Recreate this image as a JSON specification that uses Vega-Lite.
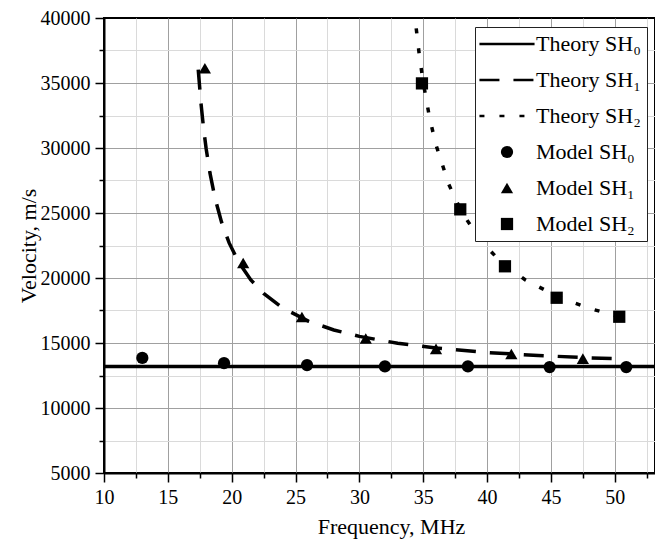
{
  "$schema": "https://vega.github.io/schema/vega-lite/v6.json",
  "width": 551,
  "height": 455,
  "autosize": "none",
  "padding": {"left": 104, "top": 18, "right": 0, "bottom": 74},
  "background": "white",
  "datasets": {
    "theory": [
      {"series": "Theory SH₀", "f": 10, "v": 13200},
      {"series": "Theory SH₀", "f": 55, "v": 13200},
      {"series": "Theory SH₁", "f": 17.38, "v": 36030},
      {"series": "Theory SH₁", "f": 17.6, "v": 33390},
      {"series": "Theory SH₁", "f": 17.8, "v": 31490},
      {"series": "Theory SH₁", "f": 18.0, "v": 29940},
      {"series": "Theory SH₁", "f": 18.3, "v": 28060},
      {"series": "Theory SH₁", "f": 18.7, "v": 26130},
      {"series": "Theory SH₁", "f": 19.2, "v": 24310},
      {"series": "Theory SH₁", "f": 19.8, "v": 22700},
      {"series": "Theory SH₁", "f": 20.5, "v": 21300},
      {"series": "Theory SH₁", "f": 21.5, "v": 19850},
      {"series": "Theory SH₁", "f": 22.5, "v": 18810},
      {"series": "Theory SH₁", "f": 24, "v": 17690},
      {"series": "Theory SH₁", "f": 26, "v": 16690},
      {"series": "Theory SH₁", "f": 28, "v": 16000},
      {"series": "Theory SH₁", "f": 30, "v": 15510},
      {"series": "Theory SH₁", "f": 33, "v": 14980},
      {"series": "Theory SH₁", "f": 36, "v": 14610},
      {"series": "Theory SH₁", "f": 40, "v": 14270},
      {"series": "Theory SH₁", "f": 44, "v": 14040},
      {"series": "Theory SH₁", "f": 48, "v": 13860},
      {"series": "Theory SH₁", "f": 50.3, "v": 13790},
      {"series": "Theory SH₂", "f": 34.45, "v": 39200},
      {"series": "Theory SH₂", "f": 34.7, "v": 37100},
      {"series": "Theory SH₂", "f": 35, "v": 35030},
      {"series": "Theory SH₂", "f": 35.5, "v": 32310},
      {"series": "Theory SH₂", "f": 36, "v": 30230},
      {"series": "Theory SH₂", "f": 37, "v": 27200},
      {"series": "Theory SH₂", "f": 38, "v": 25090},
      {"series": "Theory SH₂", "f": 39.5, "v": 22870},
      {"series": "Theory SH₂", "f": 41, "v": 21320},
      {"series": "Theory SH₂", "f": 43, "v": 19850},
      {"series": "Theory SH₂", "f": 45.5, "v": 18580},
      {"series": "Theory SH₂", "f": 48, "v": 17670},
      {"series": "Theory SH₂", "f": 50.2, "v": 17060}
    ],
    "model": [
      {"series": "Model SH₀", "f": 13.0, "v": 13850},
      {"series": "Model SH₀", "f": 19.4, "v": 13450},
      {"series": "Model SH₀", "f": 25.9, "v": 13300},
      {"series": "Model SH₀", "f": 32.0, "v": 13200},
      {"series": "Model SH₀", "f": 38.5, "v": 13200},
      {"series": "Model SH₀", "f": 44.9, "v": 13150},
      {"series": "Model SH₀", "f": 50.9, "v": 13150},
      {"series": "Model SH₁", "f": 17.9, "v": 36130},
      {"series": "Model SH₁", "f": 20.9, "v": 21150},
      {"series": "Model SH₁", "f": 25.5, "v": 17000},
      {"series": "Model SH₁", "f": 30.5, "v": 15350},
      {"series": "Model SH₁", "f": 36.0, "v": 14550},
      {"series": "Model SH₁", "f": 41.9, "v": 14150},
      {"series": "Model SH₁", "f": 47.5, "v": 13800},
      {"series": "Model SH₂", "f": 34.9, "v": 34970},
      {"series": "Model SH₂", "f": 37.9, "v": 25280},
      {"series": "Model SH₂", "f": 41.4, "v": 20900},
      {"series": "Model SH₂", "f": 45.45, "v": 18480},
      {"series": "Model SH₂", "f": 50.35, "v": 17020}
    ]
  },
  "config": {
    "font": "Liberation Serif",
    "view": {"stroke": "black", "strokeWidth": 2},
    "axis": {
      "domainColor": "black",
      "domainWidth": 2,
      "tickColor": "black",
      "tickWidth": 1.5,
      "gridWidth": 1,
      "labelFont": "Liberation Serif",
      "labelFontSize": 20,
      "labelColor": "black",
      "labelPadding": 5,
      "labelOverlap": false,
      "labelFlush": false,
      "labelBound": false,
      "titleFont": "Liberation Serif",
      "titleFontSize": 22,
      "titleFontWeight": "normal",
      "titleColor": "black",
      "titleAlign": "center",
      "titleBaseline": "middle"
    },
    "legend": {
      "labelFont": "Liberation Serif",
      "labelFontSize": 22,
      "labelColor": "black",
      "labelLimit": 0,
      "symbolSize": 150,
      "symbolStrokeWidth": 2.5,
      "symbolFillColor": "black",
      "symbolStrokeColor": "black",
      "symbolOffset": 15,
      "labelOffset": 18,
      "rowPadding": 14,
      "padding": 6,
      "strokeColor": "#222222",
      "fillColor": "white"
    }
  },
  "resolve": {"axis": {"x": "independent", "y": "independent"}},
  "layer": [
    {
      "data": {"name": "theory"},
      "transform": [{"filter": "datum.series === 'Theory SH₀'"}],
      "mark": {"type": "line", "color": "black", "strokeWidth": 3.5, "strokeCap": "butt", "clip": true},
      "encoding": {
        "x": {
          "field": "f", "type": "quantitative",
          "scale": {"domain": [10, 53.15], "nice": false, "zero": false},
          "axis": {
            "orient": "bottom",
            "grid": false,
            "tickSize": 9,
            "title": "Frequency, MHz",
            "values": [10, 15, 20, 25, 30, 35, 40, 45, 50],
            "titleX": 287,
            "titleY": 53
          }
        },
        "y": {
          "field": "v", "type": "quantitative",
          "scale": {"domain": [5000, 40000], "nice": false, "zero": false},
          "axis": {
            "orient": "left",
            "grid": false,
            "tickSize": 9,
            "title": "Velocity, m/s",
            "format": "d",
            "values": [5000, 10000, 15000, 20000, 25000, 30000, 35000, 40000],
            "titleX": -76,
            "titleY": 227.5
          }
        },
        "strokeDash": {
          "field": "series", "type": "nominal",
          "scale": {
            "domain": ["Theory SH₀", "Theory SH₁", "Theory SH₂", "Model SH₀", "Model SH₁", "Model SH₂"],
            "range": [[1, 0], [20, 14], [5, 15], [1, 0], [1, 0], [1, 0]]
          },
          "legend": {
            "title": null, "orient": "none", "legendX": 371, "legendY": 9,
            "symbolFillColor": "black",
            "encode": {"symbols": {"update": {
              "fill": {"value": "black"},
              "stroke": {"value": "black"},
              "opacity": {"value": 1},
              "strokeWidth": {"signal": "datum.index < 3 ? 2.5 : 0"},
              "strokeDash": {"signal": "datum.index === 1 ? [9, 7] : datum.index === 2 ? [2, 7] : [1, 0]"}
            }}}
          }
        }
      }
    },
    {
      "data": {"name": "theory"},
      "transform": [{"filter": "datum.series !== 'Theory SH₀'"}],
      "mark": {"type": "line", "color": "black", "strokeWidth": 3.5, "strokeCap": "butt", "clip": true},
      "encoding": {
        "x": {
          "field": "f", "type": "quantitative",
          "axis": {
            "orient": "bottom",
            "grid": true,
            "gridColor": "#dadada",
            "tickSize": 5,
            "labels": false,
            "domain": false,
            "title": null,
            "values": [12.5, 17.5, 22.5, 27.5, 32.5, 37.5, 42.5, 47.5, 52.5],
            "minExtent": 0,
            "maxExtent": 0
          }
        },
        "y": {
          "field": "v", "type": "quantitative",
          "axis": {
            "orient": "left",
            "grid": true,
            "gridColor": "#dadada",
            "tickSize": 5,
            "labels": false,
            "domain": false,
            "title": null,
            "values": [7500, 12500, 17500, 22500, 27500, 32500, 37500],
            "minExtent": 0,
            "maxExtent": 0
          }
        },
        "strokeDash": {
          "field": "series", "type": "nominal",
          "scale": {
            "domain": ["Theory SH₀", "Theory SH₁", "Theory SH₂", "Model SH₀", "Model SH₁", "Model SH₂"],
            "range": [[1, 0], [20, 14], [5, 15], [1, 0], [1, 0], [1, 0]]
          },
          "legend": {
            "title": null, "orient": "none", "legendX": 371, "legendY": 9,
            "symbolFillColor": "black",
            "encode": {"symbols": {"update": {
              "fill": {"value": "black"},
              "stroke": {"value": "black"},
              "opacity": {"value": 1},
              "strokeWidth": {"signal": "datum.index < 3 ? 2.5 : 0"},
              "strokeDash": {"signal": "datum.index === 1 ? [9, 7] : datum.index === 2 ? [2, 7] : [1, 0]"}
            }}}
          }
        }
      }
    },
    {
      "data": {"name": "model"},
      "mark": {"type": "point", "filled": true, "color": "black", "opacity": 1, "size": 150, "clip": true},
      "encoding": {
        "x": {
          "field": "f", "type": "quantitative",
          "axis": {
            "orient": "bottom",
            "grid": true,
            "gridColor": "#a0a0a0",
            "ticks": false,
            "labels": false,
            "domain": false,
            "title": null,
            "values": [15, 20, 25, 30, 35, 40, 45, 50],
            "minExtent": 0,
            "maxExtent": 0
          }
        },
        "y": {
          "field": "v", "type": "quantitative",
          "axis": {
            "orient": "left",
            "grid": true,
            "gridColor": "#a0a0a0",
            "ticks": false,
            "labels": false,
            "domain": false,
            "title": null,
            "values": [10000, 15000, 20000, 25000, 30000, 35000],
            "minExtent": 0,
            "maxExtent": 0
          }
        },
        "shape": {
          "field": "series", "type": "nominal",
          "scale": {
            "domain": ["Theory SH₀", "Theory SH₁", "Theory SH₂", "Model SH₀", "Model SH₁", "Model SH₂"],
            "range": ["M-4.5,0H4.5", "M-4.5,0H4.5", "M-4.5,0H4.5", "circle", "triangle-up", "square"]
          },
          "legend": {
            "title": null, "orient": "none", "legendX": 371, "legendY": 9,
            "symbolFillColor": "black",
            "encode": {"symbols": {"update": {
              "fill": {"value": "black"},
              "stroke": {"value": "black"},
              "opacity": {"value": 1},
              "strokeWidth": {"signal": "datum.index < 3 ? 2.5 : 0"},
              "strokeDash": {"signal": "datum.index === 1 ? [9, 7] : datum.index === 2 ? [2, 7] : [1, 0]"}
            }}}
          }
        }
      }
    }
  ]
}
